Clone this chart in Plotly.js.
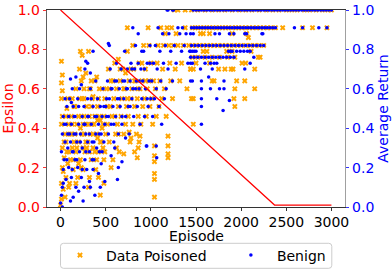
<!DOCTYPE html>
<html><head><meta charset="utf-8">
<script src="https://cdn.plot.ly/plotly-3.0.1.min.js"></script>
<style>html,body{margin:0;padding:0;background:#fff}</style>
</head><body><div id="chart" style="width:392px;height:273px"></div>
<script>
// Data Poisoned: episode and average return
const poisonedEpisode = [
 0,10,10,20,20,10,20,10,20,10,20,10,30,40,50,60,60,70,80,90,90,100,100,
 110,120,130,130,140,150,150,160,170,170,180,190,200,200,210,220,230,230,240,250,250,260,260,270,280,290,290,300,310,320,320,330,340,350,350,360,370,380,380,390,400,410,410,420,420,430,440,440,450,460,470,470,480,480,490,500,
 210,220,230,250,260,280,310,320,340,360,400,430,
 30,40,50,60,70,80,90,120,140,160,180,200,220,240,260,280,300,320,340,360,380,400,420,440,460,480,520,540,580,600,640,660,700,740,780,820,860,900,940,980,130,170,250,330,410,490,
 510,520,530,540,550,560,560,570,580,590,600,610,620,620,630,640,640,650,660,670,680,690,700,700,710,720,720,730,740,750,760,770,780,780,790,800,800,810,820,830,840,850,860,860,870,880,890,900,910,920,930,940,950,960,970,980,990,1000,
 820,850,870,760,880,740,240,
 1040,1040,1040,1040,1040,1040,1190,1190,1190,1190,
 1010,1020,1030,1050,1060,1070,1080,1090,1100,1110,1120,1130,1140,1150,1160,1170,1180,1200,1210,1220,1230,1240,1250,1260,1270,1280,1300,1320,1340,1360,1380,1400,1420,1440,
 1300,1380,1450,1520,1600,1680,1750,1820,1900,1980,2050,2120,2200,2280,2350,2420,2500,2560,2620,2700,2760,2830,2900,2960,3000,
 1460,1490,1520,1550,1590,1620,1650,1690,1720,1760,1790,1830,1860,1900,1940,1970,2010,2050,2090,2130,2170,2210,2250,2290,2330,2380,2460,2680,2790,2950,
 1550,1580,1650,1900,2060,2080,
 1460,1500,1540,1580,1620,1660,1700,1740,1790,1830,1870,1920,1960,2000,2050,2100,2150,2200,2250,
 1580,1620,1840,1900,2110,
 1460,1520,1600,1680,1760,1850,1930,2190,2210,
 1500,1650,2010,2050,
 1440,1470,1750,1820,1890,1910,2150,
 1680,1700,1950,2040,
 1930,2150,1450,1470,1920,2040,1930,1470
];
const poisonedReturn = [
 0.01,0.04,0.12,0.20,0.30,0.42,0.46,0.55,0.59,0.63,0.67,0.74,0.09,0.25,0.37,0.15,0.33,0.50,0.22,0.28,0.42,0.12,0.37,
 0.24,0.46,0.30,0.42,0.19,0.51,0.33,0.37,0.28,0.12,0.42,0.15,0.33,0.46,0.55,0.24,0.46,0.20,0.37,0.19,0.30,0.60,0.37,0.28,0.42,0.51,0.30,0.33,0.10,0.46,0.15,0.37,0.24,0.55,0.42,0.30,0.42,0.64,0.28,0.19,0.37,0.51,0.35,0.28,0.15,0.46,0.06,0.44,0.33,0.60,0.42,0.30,0.24,0.12,0.55,0.37,
 0.70,0.79,0.64,0.66,0.55,0.68,0.79,0.60,0.64,0.56,0.66,0.60,
 0.18,0.33,0.05,0.46,0.28,0.55,0.10,0.37,0.24,0.51,0.30,0.22,0.40,0.55,0.46,0.33,0.42,0.28,0.51,0.37,0.46,0.24,0.55,0.33,0.40,0.46,0.51,0.60,0.64,0.46,0.37,0.70,0.60,0.55,0.70,0.64,0.60,0.73,0.64,0.82,0.55,0.60,0.42,0.60,0.44,0.28,
 0.60,0.42,0.70,0.33,0.51,0.64,0.20,0.46,0.24,0.55,0.73,0.37,0.60,0.30,0.42,0.51,0.75,0.28,0.64,0.46,0.55,0.70,0.37,0.27,0.60,0.42,0.68,0.51,0.79,0.46,0.64,0.33,0.55,0.35,0.60,0.42,0.82,0.70,0.51,0.64,0.37,0.55,0.46,0.30,0.73,0.60,0.42,0.64,0.51,0.82,0.55,0.70,0.46,0.60,0.91,0.64,0.51,0.73,
 0.28,0.25,0.33,0.38,0.36,0.91,0.77,
 0.05,0.14,0.17,0.23,0.26,0.31,0.25,0.27,0.31,0.36,
 0.55,0.42,0.64,0.60,0.46,0.73,0.82,0.51,0.64,0.91,0.55,0.70,0.82,0.60,0.88,0.46,0.91,0.82,0.73,0.64,0.91,0.55,0.82,1.00,0.70,0.88,0.82,0.64,0.73,0.82,0.91,0.60,0.82,0.70,
 1,1,1,1,1,1,1,1,1,1,1,1,1,1,1,1,1,1,1,1,1,1,1,1,1,
 0.91,0.91,0.91,0.91,0.91,0.91,0.91,0.91,0.91,0.91,0.91,0.91,0.91,0.91,0.91,0.91,0.91,0.91,0.91,0.91,0.91,0.91,0.91,0.91,0.91,0.91,0.91,0.91,0.91,0.91,
 0.88,0.88,0.88,0.88,0.88,0.86,
 0.82,0.82,0.82,0.82,0.82,0.82,0.82,0.82,0.82,0.82,0.82,0.82,0.82,0.82,0.82,0.82,0.82,0.82,0.82,
 0.79,0.79,0.79,0.79,0.79,
 0.76,0.76,0.76,0.76,0.76,0.76,0.76,0.76,0.76,
 0.73,0.73,0.73,0.73,
 0.70,0.70,0.70,0.70,0.70,0.70,0.70,
 0.64,0.64,0.64,0.64,
 0.60,0.60,0.55,0.55,0.55,0.55,0.51,0.42
];

// Benign: episode and average return
const benignEpisode = [
 0,10,10,20,20,30,30,40,50,60,60,70,80,90,100,100,
 110,120,130,170,230,270,280,300,330,360,530,540,800,860,
 110,110,120,130,140,140,150,160,160,170,180,190,190,200,210,210,220,230,240,240,250,260,270,270,280,290,300,300,310,320,330,330,340,350,360,360,370,380,390,390,400,410,420,420,430,440,450,450,460,470,480,490,490,500,
 20,30,40,50,70,80,90,120,130,150,170,180,200,220,240,260,280,300,320,340,350,370,400,430,460,480,510,530,560,590,620,650,680,710,740,770,790,830,870,900,930,960,990,140,200,260,320,380,440,
 510,520,530,540,550,560,570,580,590,600,610,620,630,640,650,660,670,680,690,700,710,720,730,740,750,760,770,780,790,800,810,820,830,840,850,860,870,880,890,900,910,920,930,940,950,960,970,980,990,1000,
 630,640,680,600,560,720,
 955,1060,1065,
 1010,1020,1030,1040,1050,1060,1070,1080,1090,1100,1110,1120,1130,1140,1150,1160,1170,1180,1190,1200,1220,1240,1250,1260,1280,1300,1320,1340,1350,1370,1390,1410,1430,
 1190,1240,1470,1500,1530,1560,1590,1620,1650,1680,1710,1740,1770,1800,1830,1860,1890,1920,1950,1980,2010,2040,2070,2100,2130,2160,2190,2220,2250,2280,2310,2340,2370,2400,2430,2460,2490,2520,2550,2580,2610,2640,2670,2700,2730,2760,2790,2820,2850,2880,2910,2940,2970,3000,
 1450,1480,1510,1540,1570,1600,1630,1660,1690,1720,1750,1780,1810,1840,1870,1900,1930,1960,1990,2020,2050,2080,2110,2140,2170,2200,2230,2260,2290,2320,2350,2380,2590,2680,2860,2950,
 1440,1470,1710,1760,1870,1920,2040,2060,2230,2240,
 1450,1490,1530,1570,1610,1650,1690,1730,1770,1810,1850,1890,1930,1970,2010,2050,2090,2130,2170,2210,2250,
 1440,1460,1480,1500,1860,1880,1900,1950,1990,2030,2070,2100,
 1440,1480,1520,1560,1600,1640,1680,1720,1760,1800,1840,1880,1920,2140,
 1440,1460,1600,1660,1700,1730,2100,
 1550,1680,2040,
 1440,1460,1560,1810,1640,
 1560,1660,1810,1760,
 1560,1730,1870,
 1560,1800,
 1560
];
const benignReturn = [
 0.02,0.06,0.28,0.10,0.37,0.19,0.46,0.24,0.33,0.42,0.14,0.51,0.30,0.20,0.37,0.55,
 0.65,0.53,0.60,0.66,0.62,0.70,0.74,0.73,0.68,0.79,0.83,0.82,0.91,0.88,
 0.33,0.03,0.42,0.19,0.51,0.28,0.37,0.24,0.46,0.10,0.33,0.55,0.20,0.42,0.28,0.60,0.37,0.15,0.46,0.30,0.03,0.51,0.24,0.42,0.37,0.19,0.55,0.33,0.46,0.28,0.60,0.10,0.42,0.33,0.51,0.19,0.24,0.46,0.37,0.64,0.30,0.55,0.42,0.17,0.28,0.51,0.37,0.22,0.46,0.60,0.33,0.42,0.13,0.51,
 0.00,0.12,0.42,0.55,0.24,0.37,0.46,0.15,0.28,0.46,0.37,0.24,0.51,0.33,0.19,0.42,0.28,0.46,0.37,0.55,0.24,0.33,0.46,0.37,0.28,0.51,0.55,0.46,0.60,0.42,0.64,0.55,0.46,0.64,0.60,0.51,0.70,0.60,0.64,0.79,0.70,0.55,0.73,0.05,0.08,0.10,0.13,0.06,0.10,
 0.46,0.64,0.37,0.55,0.70,0.42,0.60,0.51,0.33,0.64,0.46,0.73,0.55,0.37,0.60,0.51,0.70,0.42,0.64,0.55,0.79,0.46,0.60,0.70,0.51,0.37,0.64,0.73,0.55,0.60,0.46,0.70,0.82,0.64,0.51,0.73,0.60,0.42,0.70,0.55,0.64,0.79,0.46,0.60,0.31,0.73,0.51,0.64,0.82,0.55,
 0.14,0.20,0.23,0.30,0.26,0.35,
 0.31,0.31,0.25,
 0.64,0.46,0.73,0.55,0.82,0.60,0.70,0.91,0.51,0.79,0.64,0.42,0.88,0.73,0.55,0.82,0.60,1.00,0.70,0.88,0.79,0.64,1.00,0.82,0.73,0.91,0.88,0.79,0.91,0.82,0.88,0.73,0.79,
 1,1,1,1,1,1,1,1,1,1,1,1,1,1,1,1,1,1,1,1,1,1,1,1,1,1,1,1,1,1,1,1,1,1,1,1,1,1,1,1,1,1,1,1,1,1,1,1,1,1,1,1,1,1,
 0.91,0.91,0.91,0.91,0.91,0.91,0.91,0.91,0.91,0.91,0.91,0.91,0.91,0.91,0.91,0.91,0.91,0.91,0.91,0.91,0.91,0.91,0.91,0.91,0.91,0.91,0.91,0.91,0.91,0.91,0.91,0.91,0.91,0.91,0.91,0.91,
 0.88,0.88,0.88,0.88,0.88,0.88,0.88,0.88,0.88,0.88,
 0.82,0.82,0.82,0.82,0.82,0.82,0.82,0.82,0.82,0.82,0.82,0.82,0.82,0.82,0.82,0.82,0.82,0.82,0.82,0.82,0.82,
 0.79,0.79,0.79,0.79,0.79,0.79,0.79,0.79,0.79,0.79,0.79,0.79,
 0.76,0.76,0.76,0.76,0.76,0.76,0.76,0.76,0.76,0.76,0.76,0.76,0.76,0.76,
 0.73,0.73,0.73,0.73,0.73,0.73,0.73,
 0.70,0.70,0.70,
 0.64,0.64,0.64,0.64,0.66,
 0.60,0.60,0.60,0.60,
 0.55,0.55,0.54,
 0.51,0.49,
 0.42
];

// Epsilon schedule
const epsilonEpisode = [0, 2370, 3000];
const epsilonValue = [1.0, 0.01, 0.01];

// Ticks
const xTicks = [0, 500, 1000, 1500, 2000, 2500, 3000];
const yTicks = [0, 0.2, 0.4, 0.6, 0.8, 1.0];
const yTickText = ['0.0', '0.2', '0.4', '0.6', '0.8', '1.0'];

const FONT = 'DejaVu Sans, sans-serif';

const traces = [
  {x: poisonedEpisode, y: poisonedReturn, type: 'scatter', mode: 'markers', name: 'Data Poisoned',
   legend: 'legend', marker: {symbol: 'x', size: 5, color: 'orange', line: {width: 0}}},
  {x: benignEpisode, y: benignReturn, type: 'scatter', mode: 'markers', name: 'Benign',
   legend: 'legend2', marker: {symbol: 'circle', size: 3.5, color: 'blue', line: {width: 0}}},
  {x: epsilonEpisode, y: epsilonValue, type: 'scatter', mode: 'lines', yaxis: 'y2', showlegend: false,
   line: {color: 'red', width: 1.2}, hoverinfo: 'skip'}
];

const legendCommon = {
  orientation: 'h', yanchor: 'middle', y: -0.246, xanchor: 'left',
  borderwidth: 0, bgcolor: 'rgba(0,0,0,0)', itemwidth: 42,
  font: {family: FONT, size: 14, color: '#000'}
};

const layout = {
  width: 392, height: 273,
  margin: {l: 47, r: 47, t: 10, b: 66, autoexpand: false},
  paper_bgcolor: '#fff', plot_bgcolor: '#fff',
  font: {family: FONT, size: 14, color: '#000'},
  showlegend: true,
  xaxis: {
    range: [-150, 3150], tickvals: xTicks, ticktext: xTicks.map(String),
    ticks: 'outside', ticklen: 3.5, tickwidth: 0.8, tickcolor: '#000',
    showline: true, linecolor: '#000', linewidth: 0.8, mirror: true,
    showgrid: false, zeroline: false, automargin: false, ticklabelstandoff: -1,
    tickfont: {family: FONT, size: 14, color: '#000'}
  },
  yaxis: {
    range: [0, 1], tickvals: yTicks, ticktext: yTickText,
    ticks: 'outside', ticklen: 3.5, tickwidth: 0.8, tickcolor: 'red',
    showline: true, linecolor: '#333', linewidth: 0.8,
    showgrid: false, zeroline: false, automargin: false,
    tickfont: {family: FONT, size: 14, color: 'red'},
    title: {text: 'Epsilon', font: {family: FONT, size: 14, color: 'red'}, standoff: 4}
  },
  yaxis2: {
    overlaying: 'y', side: 'right',
    range: [0, 1], tickvals: yTicks, ticktext: yTickText,
    ticks: 'outside', ticklen: 3.5, tickwidth: 0.8, tickcolor: 'blue',
    showline: true, linecolor: '#888', linewidth: 0.8,
    showgrid: false, zeroline: false, automargin: false,
    tickfont: {family: FONT, size: 14, color: 'blue'},
    title: {text: 'Average Return', font: {family: FONT, size: 14, color: 'blue'}, standoff: 4}
  },
  annotations: [{
    text: 'Episode', xref: 'paper', yref: 'paper', x: 0.5, y: -0.145,
    xanchor: 'center', yanchor: 'middle', height: 14, valign: 'middle', showarrow: false,
    font: {family: FONT, size: 14, color: '#000'}
  }],
  legend: Object.assign({}, legendCommon, {x: 0.0235}),
  legend2: Object.assign({}, legendCommon, {x: 0.597}),
  shapes: [{
    type: 'path', xref: 'paper', yref: 'paper', layer: 'below',
    path: 'M 0.0554,-0.1843 L 0.9456,-0.1843 Q 0.9557,-0.1843 0.9557,-0.1995 L 0.9557,-0.2960 Q 0.9557,-0.3112 0.9456,-0.3112 L 0.0554,-0.3112 Q 0.0453,-0.3112 0.0453,-0.2960 L 0.0453,-0.1995 Q 0.0453,-0.1843 0.0554,-0.1843 Z',
    line: {color: '#cccccc', width: 1}, fillcolor: 'rgba(0,0,0,0)'
  }]
};

Plotly.newPlot('chart', traces, layout, {displayModeBar: false, staticPlot: true});
</script>
</body></html>
